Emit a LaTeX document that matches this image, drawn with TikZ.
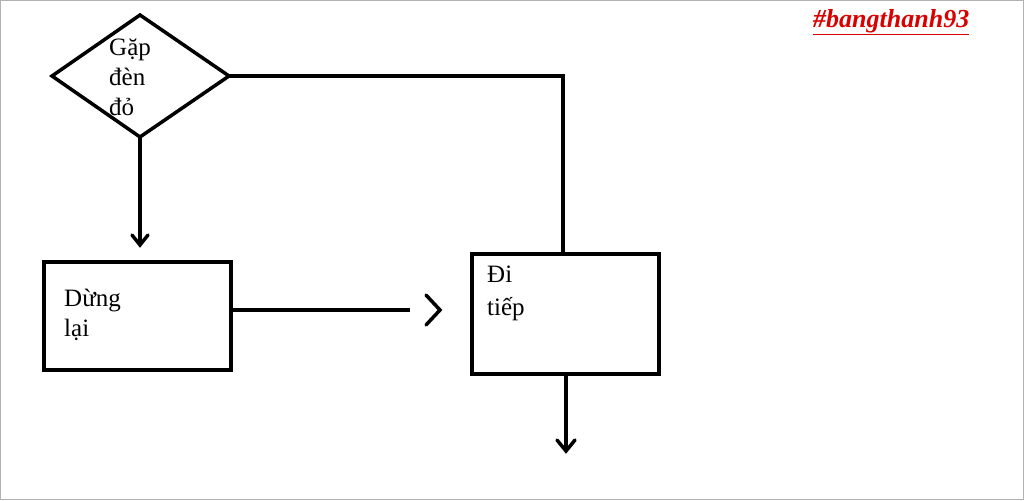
\documentclass[tikz,border=0pt]{standalone}
\usepackage{fontspec}
\setmainfont{Liberation Serif}
\usetikzlibrary{shapes.geometric}
\begin{document}
\begin{tikzpicture}[x=1pt,y=-1pt,
  thick line/.style={line width=3.5pt,black},
  lbl/.style={font=\fontsize{25}{30}\selectfont,align=left,anchor=north west,inner sep=0pt},
  chev/.style={line width=3.5pt,line cap=round,line join=miter}]
\fill[white] (0,0) rectangle (1024,500);
\draw[gray!60,line width=1pt] (0.5,0.5) rectangle (1023.5,499.5);
\useasboundingbox (0,0) rectangle (1024,500);
% diamond
\coordinate (dl) at (52,76); \coordinate (dt) at (140,15);
\coordinate (dr) at (229,76); \coordinate (db) at (140,137);
\draw[thick line,line join=miter] (dl)--(dt)--(dr)--(db)--cycle;
\node[lbl] (t1) at (109,39) {Gặp\\đèn\\đỏ};
% boxes
\node[draw,thick line,minimum width=187pt,minimum height=108pt,anchor=north west] (b1) at (42,260) {};
\node[lbl] (t2) at (64,289) {Dừng\\lại};
\node[draw,thick line,minimum width=187pt,minimum height=120pt,anchor=north west] (b2) at (470,252) {};
\node[lbl,font=\fontsize{25}{33}\selectfont] (t3) at (487,266) {Đi\\tiếp};
% connectors
\coordinate (a1) at (140,245);
\draw[thick line] (db) -- (a1);
\draw[chev] (132,235) -- (140,245) -- (148,235);
\coordinate (a2) at (410,310);
\draw[thick line] (b1.east |- a2) -- (a2);
\draw[chev] (426,295) -- (440,310) -- (426,325);
\draw[thick line] (dr) -- (563,76) -- (563,252);
\coordinate (a3) at (566,451);
\draw[thick line] (566,372) -- (a3);
\draw[chev] (557,440) -- (566,451) -- (575,440);
\node[font=\fontsize{26}{30}\selectfont\bfseries\itshape,text=red!85!black,anchor=north west,inner sep=0pt] (tag) at (813,9) {\underline{\#bangthanh93}};
\end{tikzpicture}
\end{document}
